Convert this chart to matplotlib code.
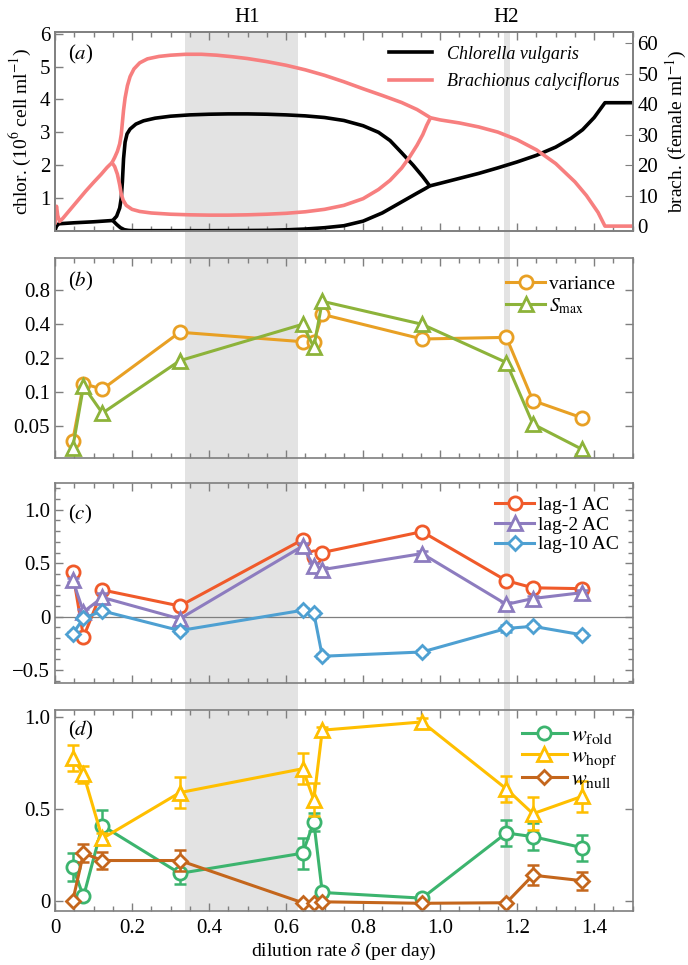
import matplotlib

matplotlib.use("Agg")
import matplotlib.pyplot as plt
from matplotlib.lines import Line2D
from matplotlib.ticker import MultipleLocator, NullLocator

plt.rcParams["font.family"] = ["Liberation Serif", "DejaVu Serif"]
plt.rcParams["mathtext.fontset"] = "stix"

# ---------------- data ----------------
# shaded Hopf regions (dilution rate)
h1_span = (0.337, 0.632)
h2_span = (1.165, 1.181)

# panel (a): bifurcation diagram, chlorella (left axis)
chl_eq1_x = [0.0, 0.004, 0.01, 0.05, 0.1, 0.15]
chl_eq1_y = [0.02, 0.15, 0.22, 0.25, 0.28, 0.32]
chl_max_x = [0.15, 0.16, 0.168, 0.172, 0.175, 0.178, 0.182, 0.187, 0.195, 0.21,
             0.23, 0.26, 0.3, 0.35, 0.4, 0.45, 0.5, 0.55, 0.6, 0.65, 0.7, 0.75,
             0.8, 0.84, 0.87, 0.9, 0.93, 0.955, 0.973]
chl_max_y = [0.32, 0.45, 0.7, 1.0, 1.5, 2.2, 2.7, 2.95, 3.1, 3.25,
             3.35, 3.43, 3.49, 3.53, 3.55, 3.56, 3.56, 3.55, 3.53, 3.5, 3.45, 3.36,
             3.2, 3.0, 2.75, 2.38, 2.0, 1.65, 1.37]
chl_min_x = [0.15, 0.16, 0.17, 0.18, 0.19, 0.2, 0.3, 0.4, 0.5, 0.55, 0.6, 0.65,
             0.7, 0.75, 0.8, 0.85, 0.88, 0.91, 0.94, 0.96, 0.973]
chl_min_y = [0.32, 0.2, 0.1, 0.04, 0.02, 0.01, 0.01, 0.01, 0.015, 0.02, 0.035, 0.06,
             0.1, 0.16, 0.3, 0.55, 0.75, 0.95, 1.15, 1.28, 1.37]
chl_eq2_x = [0.973, 1.0, 1.05, 1.1, 1.15, 1.2, 1.25, 1.3, 1.34, 1.37, 1.4, 1.428, 1.5]
chl_eq2_y = [1.37, 1.45, 1.6, 1.75, 1.92, 2.1, 2.3, 2.55, 2.82, 3.08, 3.45, 3.9, 3.9]

# panel (a): brachionus (right axis)
bra_eq1_x = [0.0, 0.002, 0.004, 0.007, 0.012, 0.02, 0.04, 0.06, 0.08, 0.1, 0.12, 0.135, 0.148]
bra_eq1_y = [0.5, 5.5, 6.5, 3.5, 1.5, 2.5, 5.5, 8.5, 11.5, 14.3, 17, 19.2, 20.8]
bra_max_x = [0.148, 0.155, 0.162, 0.168, 0.172, 0.175, 0.178, 0.182, 0.188, 0.195,
             0.205, 0.22, 0.24, 0.27, 0.3, 0.34, 0.38, 0.42, 0.46, 0.5, 0.55, 0.6,
             0.65, 0.7, 0.75, 0.8, 0.85, 0.9, 0.94, 0.975]
bra_max_y = [20.8, 22.5, 24.5, 27, 30, 34, 38, 42, 46, 49,
             51.5, 53.5, 54.8, 55.6, 56, 56.3, 56.3, 56.0, 55.5, 54.9, 53.9, 52.7,
             51.2, 49.4, 47.3, 45.0, 42.8, 40.5, 38.2, 35.5]
bra_min_x = [0.148, 0.155, 0.162, 0.168, 0.172, 0.177, 0.185, 0.2, 0.22, 0.25, 0.3,
             0.35, 0.4, 0.45, 0.5, 0.55, 0.6, 0.65, 0.7, 0.75, 0.8, 0.84, 0.87, 0.9,
             0.92, 0.94, 0.955, 0.965, 0.975]
bra_min_y = [20.8, 19.5, 17, 13.5, 10.5, 8.5, 6.8, 5.5, 4.8, 4.3, 3.9,
             3.7, 3.6, 3.6, 3.7, 3.9, 4.2, 4.7, 5.5, 6.8, 9, 12, 15, 19,
             22.5, 26.5, 30, 33, 35.5]
bra_eq2_x = [0.975, 1.0, 1.05, 1.1, 1.15, 1.2, 1.25, 1.3, 1.35, 1.38, 1.41, 1.428, 1.5]
bra_eq2_y = [35.5, 34.8, 33.8, 32.5, 30.8, 28.3, 25, 20.5, 14.5, 10, 4.5, 0, 0]

# dilution rates of the experiments (panels b-d)
delta = [0.046, 0.074, 0.123, 0.324, 0.643, 0.672, 0.694, 0.953, 1.172, 1.241, 1.369]

# panel (b)
variance = [0.037, 0.119, 0.106, 0.34, 0.28, 0.28, 0.49, 0.296, 0.306, 0.084, 0.059]
s_max = [0.032, 0.113, 0.065, 0.19, 0.40, 0.25, 0.64, 0.40, 0.183, 0.052, 0.031]

# panel (c)
lag1 = [0.415, -0.19, 0.25, 0.10, 0.72, 0.56, 0.60, 0.795, 0.337, 0.27, 0.262]
lag1_err = [0.02, 0.02, 0.03, 0.02, 0.02, 0.03, 0.02, 0.02, 0.02, 0.02, 0.02]
lag2 = [0.34, 0.045, 0.18, -0.02, 0.66, 0.47, 0.44, 0.59, 0.115, 0.17, 0.225]
lag2_err = [0.02, 0.03, 0.04, 0.03, 0.03, 0.03, 0.02, 0.02, 0.02, 0.02, 0.02]
lag10 = [-0.16, -0.015, 0.054, -0.13, 0.06, 0.036, -0.37, -0.33, -0.11, -0.09, -0.17]
lag10_err = [0.02, 0.02, 0.02, 0.02, 0.02, 0.02, 0.02, 0.02, 0.03, 0.02, 0.02]

# panel (d)
w_fold = [0.186, 0.024, 0.41, 0.15, 0.26, 0.43, 0.046, 0.015, 0.37, 0.35, 0.29]
w_fold_err = [0.075, 0.01, 0.085, 0.06, 0.085, 0.05, 0.02, 0.02, 0.07, 0.075, 0.07]
w_hopf = [0.78, 0.69, 0.34, 0.59, 0.72, 0.55, 0.93, 0.975, 0.61, 0.475, 0.57]
w_hopf_err = [0.072, 0.045, 0.03, 0.085, 0.085, 0.09, 0.02, 0.02, 0.07, 0.09, 0.085]
w_null = [0.0, 0.26, 0.22, 0.22, -0.01, -0.01, -0.005, -0.013, -0.01, 0.14, 0.11]
w_null_err = [0.0, 0.05, 0.045, 0.055, 0.0, 0.0, 0.0, 0.0, 0.0, 0.055, 0.05]

x_ticks = [0, 0.2, 0.4, 0.6, 0.8, 1.0, 1.2, 1.4]
x_ticklabels = ["0", "0.2", "0.4", "0.6", "0.8", "1.0", "1.2", "1.4"]
b_ticks = [0.05, 0.1, 0.2, 0.4, 0.8]
b_ticklabels = ["0.05", "0.1", "0.2", "0.4", "0.8"]
c_ticks = [-0.5, 0, 0.5, 1.0]
c_ticklabels = ["\u22120.5", "0", "0.5", "1.0"]
d_ticks = [0, 0.5, 1.0]
d_ticklabels = ["0", "0.5", "1.0"]

# ---------------- styling ----------------
FRAME = "#7f7f7f"
SHADE = "#e3e3e3"
C_BLACK = "black"
C_PINK = "#f77f7f"
C_VAR = "#e8a024"
C_SMAX = "#8db33a"
C_LAG1 = "#f05a2a"
C_LAG2 = "#8d7cbf"
C_LAG10 = "#4ea0d2"
C_FOLD = "#3cb46e"
C_HOPF = "#ffbf00"
C_NULL = "#c4661c"

W, H = 688, 965
fig = plt.figure(figsize=(W / 100, H / 100), dpi=100)

left = 55 / W
width = (632.7 - 55) / W


def ax_rect(top_px, bot_px):
    return [left, 1 - bot_px / H, width, (bot_px - top_px) / H]


# shading behind all panels (also spans gaps between panels)
ax_bg = fig.add_axes(ax_rect(32, 911))
ax_bg.set_xlim(0, 1.5)
ax_bg.axvspan(*h1_span, color=SHADE, lw=0)
ax_bg.axvspan(*h2_span, color=SHADE, lw=0)
ax_bg.axis("off")

ax_a = fig.add_axes(ax_rect(32, 231))
ax_b = fig.add_axes(ax_rect(258, 458))
ax_c = fig.add_axes(ax_rect(483, 683))
ax_d = fig.add_axes(ax_rect(710, 911))


def style(ax, right=True):
    ax.set_facecolor("none")
    ax.set_xlim(0, 1.5)
    for sp in ax.spines.values():
        sp.set_color(FRAME)
        sp.set_linewidth(1.2)
    ax.set_xticks(x_ticks)
    ax.xaxis.set_minor_locator(MultipleLocator(0.05))
    ax.tick_params(which="both", direction="in", color=FRAME, top=True,
                   right=right, labelsize=15, width=1.0)
    ax.tick_params(which="major", length=6)
    ax.tick_params(which="minor", length=3.5)


for ax in (ax_a, ax_b, ax_c, ax_d):
    style(ax, right=ax is not ax_a)
for ax in (ax_a, ax_b, ax_c):
    ax.set_xticklabels([])
ax_d.set_xticklabels(x_ticklabels)
ax_d.tick_params(axis="x", pad=6)

# ---- panel (a)
ax_a.set_ylim(0, 6.05)
ax_a.set_yticks([1, 2, 3, 4, 5, 6])
ax_a2 = ax_a.twinx()
ax_a2.set_facecolor("none")
ax_a2.set_ylim(-1.6, 63.6)
ax_a2.set_yticks([0, 10, 20, 30, 40, 50, 60])
for sp in ax_a2.spines.values():
    sp.set_color(FRAME)
    sp.set_linewidth(1.2)
ax_a2.tick_params(direction="in", color=FRAME, labelsize=15, length=6)

lw_a = 2.6
for xs, ys in [(chl_eq1_x, chl_eq1_y), (chl_max_x, chl_max_y),
               (chl_min_x, chl_min_y), (chl_eq2_x, chl_eq2_y)]:
    ax_a.plot(xs, ys, color=C_BLACK, lw=lw_a, solid_capstyle="butt")
for xs, ys in [(bra_eq1_x, bra_eq1_y), (bra_max_x, bra_max_y),
               (bra_min_x, bra_min_y), (bra_eq2_x, bra_eq2_y)]:
    ax_a2.plot(xs, ys, color=C_PINK, lw=lw_a, solid_capstyle="butt")

ax_a.set_ylabel("chlor. (10$^{6}$ cell ml$^{-1}$)", fontsize=14, labelpad=5)
ax_a2.set_ylabel("brach. (female ml$^{-1}$)", fontsize=14, labelpad=4)
handles_a = [Line2D([], [], color=C_BLACK, lw=lw_a),
             Line2D([], [], color=C_PINK, lw=lw_a)]
ax_a2.legend(handles_a, ["Chlorella vulgaris", "Brachionus calyciflorus"],
             loc="upper right", frameon=False, prop={"style": "italic", "size": 13},
             handlelength=2.4, labelspacing=0.55, borderaxespad=0.35)
ax_a.text(0.022, 0.885, "($a$)", transform=ax_a.transAxes, fontsize=15,
          va="center", ha="left")

fig.text(left + 0.50 / 1.5 * width, 1 - 18 / H, "H1", ha="center", va="center", fontsize=15)
fig.text(left + 1.172 / 1.5 * width, 1 - 18 / H, "H2", ha="center", va="center", fontsize=15)

mk = dict(mfc="white", mew=2.0, lw=2.2)
eb = dict(fmt="none", capsize=4, elinewidth=1.8, capthick=1.8)

# ---- panel (b)
ax_b.set_yscale("log")
ax_b.set_ylim(0.026, 1.55)
ax_b.set_yticks(b_ticks)
ax_b.set_yticklabels(b_ticklabels)
ax_b.yaxis.set_minor_locator(NullLocator())
ax_b.plot(delta, variance, "-o", color=C_VAR, ms=9.5, label="variance", **mk)
ax_b.plot(delta, s_max, "-^", color=C_SMAX, ms=10.5, label="$S_{\\mathrm{max}}$", **mk)
ax_b.legend(loc="upper right", frameon=False, fontsize=14, handlelength=2.0,
            handletextpad=0.2, labelspacing=0.15, borderaxespad=0.5)
ax_b.text(0.022, 0.885, "($b$)", transform=ax_b.transAxes, fontsize=15,
          va="center", ha="left")

# ---- panel (c)
ax_c.axhline(0, color=FRAME, lw=0.9, zorder=0)
ax_c.set_ylim(-0.62, 1.25)
ax_c.set_yticks(c_ticks)
ax_c.set_yticklabels(c_ticklabels)
ax_c.yaxis.set_minor_locator(MultipleLocator(0.1))
for vals, errs, m, c, s, lab in [
    (lag1, lag1_err, "o", C_LAG1, 9.5, "lag-1 AC"),
    (lag2, lag2_err, "^", C_LAG2, 10.5, "lag-2 AC"),
    (lag10, lag10_err, "D", C_LAG10, 7.5, "lag-10 AC"),
]:
    ax_c.errorbar(delta, vals, yerr=errs, color=c, **eb)
    ax_c.plot(delta, vals, "-" + m, color=c, ms=s, label=lab, **mk)
ax_c.legend(loc="upper right", frameon=False, fontsize=14, handlelength=2.0,
            handletextpad=0.2, labelspacing=0.1, borderaxespad=0.3)
ax_c.text(0.022, 0.845, "($c$)", transform=ax_c.transAxes, fontsize=15,
          va="center", ha="left")

# ---- panel (d)
ax_d.set_ylim(-0.055, 1.04)
ax_d.set_yticks(d_ticks)
ax_d.set_yticklabels(d_ticklabels)
ax_d.yaxis.set_minor_locator(NullLocator())
for vals, errs, m, c, s, lab in [
    (w_fold, w_fold_err, "o", C_FOLD, 9.5, "$w_{\\mathrm{fold}}$"),
    (w_hopf, w_hopf_err, "^", C_HOPF, 10.5, "$w_{\\mathrm{hopf}}$"),
    (w_null, w_null_err, "D", C_NULL, 7.5, "$w_{\\mathrm{null}}$"),
]:
    ax_d.errorbar(delta, vals, yerr=errs, color=c, **eb)
    ax_d.plot(delta, vals, "-" + m, color=c, ms=s, label=lab, **mk)
ax_d.legend(loc="upper right", frameon=False, fontsize=16, handlelength=2.0,
            handletextpad=0.2, labelspacing=0.0, borderaxespad=0.3)
ax_d.text(0.022, 0.9, "($d$)", transform=ax_d.transAxes, fontsize=15,
          va="center", ha="left")
ax_d.set_xlabel("dilution rate $\\delta$ (per day)", fontsize=14, labelpad=2)

fig.savefig("out.png", dpi=100)
